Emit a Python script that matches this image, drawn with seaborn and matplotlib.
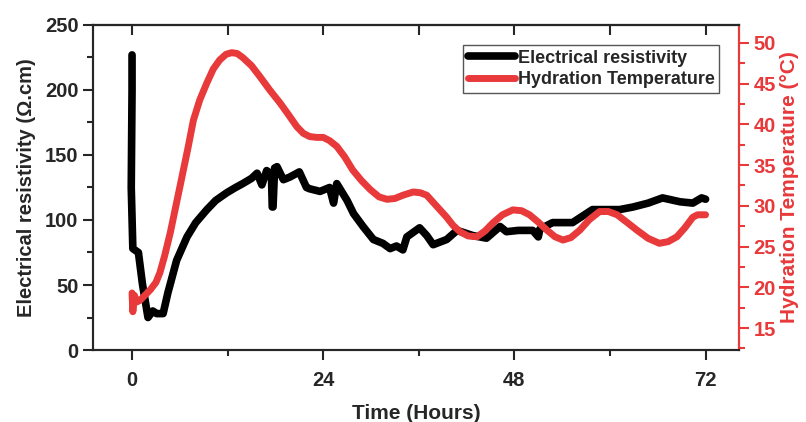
import matplotlib
matplotlib.use('Agg')
import matplotlib.pyplot as plt
from matplotlib.ticker import MultipleLocator
import seaborn as sns
import pandas as pd

# electrical resistivity (black)
res_time = [0.0, 0.0, -0.1, 0.1, 0.8, 1.3, 2.0, 2.6, 3.1, 3.9, 4.5, 5.6, 6.9, 8.0, 9.4,
            10.5, 11.9, 13.0, 13.9, 15.0, 15.7, 16.3, 16.9, 17.5, 17.6, 17.7, 17.9, 18.2,
            19.0, 19.8, 21.0, 21.9, 22.3, 23.6, 24.8, 25.0, 25.3, 25.7, 27.0, 27.8,
            29.0, 30.3, 31.5, 32.4, 33.2, 34.0, 34.5, 36.1, 37.0, 37.8, 39.5, 40.8,
            42.8, 44.5, 46.2, 47.0, 48.5, 50.3, 51.0, 51.2, 52.8, 55.3, 57.8, 61.2,
            62.9, 64.8, 66.6, 68.8, 70.4, 71.5, 72.0]
resistivity = [227, 200, 125, 78, 75, 51, 25, 30, 28, 28, 44, 69, 87, 98, 108,
               115, 121, 125, 128, 132, 136, 127, 138, 135, 110, 110, 140, 141,
               131, 133, 137, 125, 124, 122, 125, 120, 113, 128, 115, 105,
               95, 85, 82, 78, 80, 77, 87, 94, 88, 81, 85, 92,
               88, 86, 95, 91, 92, 92, 87, 93, 98, 98, 108, 108,
               110, 113, 117, 114, 113, 117, 116]

# hydration temperature (red)
temp_time = [0.0, 0.1, 0.3, 0.6, 1.0, 2.3, 3.0, 3.5, 4.1, 4.8, 5.4, 6.0, 7.0, 7.7,
             8.5, 9.4, 10.2, 11.0, 11.8, 12.5, 13.2, 13.9, 15.0, 16.1, 17.3, 18.6,
             19.7, 20.7, 21.5, 22.3, 23.2, 24.0, 24.8, 25.7, 26.7, 27.7, 28.8, 29.9,
             31.0, 32.0, 33.0, 34.0, 35.3, 36.2, 37.0, 38.2, 39.5, 40.3, 41.2, 42.2,
             43.3, 44.3, 45.3, 46.5, 47.8, 48.9, 49.9, 51.0, 52.1, 53.1, 54.1, 55.1,
             56.2, 57.4, 58.7, 59.8, 60.9, 62.1, 63.4, 64.8, 66.2, 67.3, 68.4, 69.4,
             70.4, 71.0, 71.5, 72.0]
temperature = [19.3, 17.0, 19.0, 18.2, 18.4, 19.7, 20.6, 21.8, 23.9, 26.7, 29.5, 32.3, 37.0, 40.5,
               43.0, 45.1, 46.8, 47.9, 48.6, 48.8, 48.7, 48.2, 47.2, 45.8, 44.2, 42.6,
               41.1, 39.7, 38.9, 38.5, 38.4, 38.4, 38.0, 37.3, 36.0, 34.4, 33.1, 32.0,
               31.1, 30.8, 30.9, 31.3, 31.7, 31.6, 31.3, 30.0, 28.6, 27.6, 26.8, 26.3,
               26.2, 26.9, 27.9, 28.9, 29.5, 29.4, 28.9, 28.0, 27.0, 26.2, 25.8, 26.1,
               27.0, 28.3, 29.3, 29.3, 28.9, 28.0, 27.0, 26.0, 25.4, 25.6, 26.2, 27.3,
               28.6, 28.9, 28.9, 28.9]

res_df = pd.DataFrame({'time': res_time, 'value': resistivity})
temp_df = pd.DataFrame({'time': temp_time, 'value': temperature})

sns.set_style('ticks')
plt.rcParams['font.family'] = ['Liberation Sans', 'DejaVu Sans']
plt.rcParams['font.weight'] = 'bold'

red = '#e8393b'

fig = plt.figure(figsize=(8.06, 4.22), dpi=100)
ax = fig.add_axes([0.1154, 0.1706, 0.8015, 0.7702])
ax2 = ax.twinx()

sns.lineplot(data=res_df, x='time', y='value', ax=ax, color='black', lw=5.5,
             sort=False, estimator=None, label='Electrical resistivity', legend=False,
             solid_capstyle='round', solid_joinstyle='round')
sns.lineplot(data=temp_df, x='time', y='value', ax=ax2, color=red, lw=5,
             sort=False, estimator=None, label='Hydration Temperature', legend=False,
             solid_capstyle='round', solid_joinstyle='round')

ax.set_xlim(-4.9, 76.2)
ax.set_ylim(0, 250)
ax2.set_ylim(12.3, 52.2)

ax.xaxis.set_major_locator(MultipleLocator(24))
ax.xaxis.set_minor_locator(MultipleLocator(12))
ax.yaxis.set_major_locator(MultipleLocator(50))
ax.yaxis.set_minor_locator(MultipleLocator(25))
ax2.yaxis.set_major_locator(MultipleLocator(5))
ax2.yaxis.set_minor_locator(MultipleLocator(2.5))

ax.tick_params(which='major', length=7, width=1.5, labelsize=14.5, direction='out')
ax.tick_params(which='minor', length=4, width=1.5, direction='out')
ax2.tick_params(which='major', length=7, width=1.5, labelsize=14.5, colors=red, direction='out')
ax2.tick_params(which='minor', length=4, width=1.5, colors=red, direction='out')
ax.tick_params(axis='x', pad=8)

top = ax.secondary_xaxis('top')
top.set_xticks([0, 12, 24, 36, 48, 60, 72])
top.set_xticklabels([])
top.tick_params(direction='in', length=7, width=1.5)
top.spines['top'].set_linewidth(1.5)

for s in ax.spines.values():
    s.set_linewidth(1.5)
for s in ax2.spines.values():
    s.set_linewidth(1.5)
ax2.spines['right'].set_color(red)

for lab in ax.get_xticklabels() + ax.get_yticklabels() + ax2.get_yticklabels():
    lab.set_fontweight('bold')

ax.set_xlabel('Time (Hours)', fontsize=15, fontweight='bold', labelpad=10)
ax.set_ylabel('Electrical resistivity (Ω.cm)', fontsize=14.5, fontweight='bold', labelpad=6)
ax2.set_ylabel('Hydration Temperature (°C)', fontsize=15, fontweight='bold', color=red, labelpad=3)

handles = ax.get_lines()[:1] + ax2.get_lines()[:1]
leg = ax2.legend(handles, [h.get_label() for h in handles], loc='upper right',
                 bbox_to_anchor=(0.969, 0.938), fancybox=False, framealpha=1,
                 edgecolor='#555555', handlelength=2.6, handletextpad=0.15,
                 borderpad=0.25, borderaxespad=0, labelspacing=0.25,
                 prop={'weight': 'bold', 'size': 13})
leg.get_frame().set_linewidth(1.0)

fig.savefig('out.png', dpi=100)
